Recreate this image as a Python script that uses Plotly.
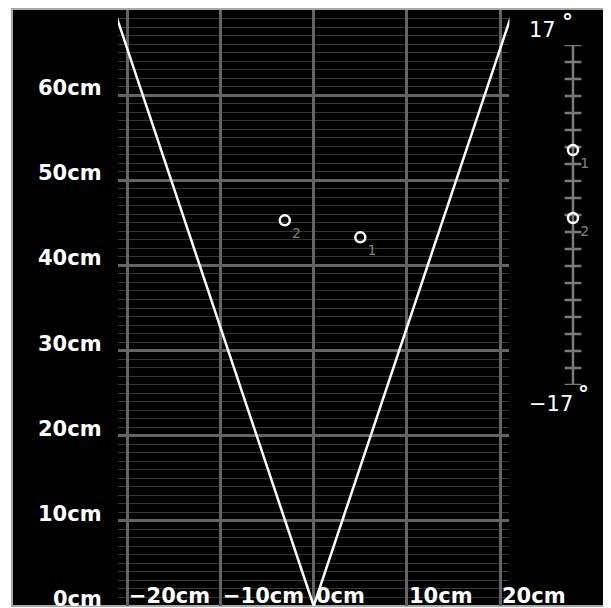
import math
import plotly.graph_objects as go

W, H = 611, 608
OFF = 8  # page offset of the figure (body margin)

# ---- data ----
y_ticks = [0, 10, 20, 30, 40, 50, 60]
y_tick_labels = ["0cm", "10cm", "20cm", "30cm", "40cm", "50cm", "60cm"]
x_ticks = [-20, -10, 0, 10, 20]
x_tick_labels = ["\u221220cm", "\u221210cm", "0cm", "10cm", "20cm"]
fov_half_angle_deg = 17
max_range_cm = 70
target_ids = ["1", "2"]
target_x_cm = [5.0, -3.1]
target_y_cm = [43.3, 45.3]
target_angle_deg = [6.5, -0.3]
angle_tick_values = [-17, -15.3, -13.6, -11.9, -10.2, -8.5, -6.8, -5.1, -3.4, -1.7, 0,
                     1.7, 3.4, 5.1, 6.8, 8.5, 10.2, 11.9, 13.6, 15.3, 17]

FONT = "DejaVu Sans"
GRID_MAJOR = "#646464"
GRID_MINOR = "#363636"
SCALE_GRAY = "#7a7a7a"
LABEL_FONT = dict(family=FONT, size=21, color="white", weight="bold")
ID_FONT = dict(family=FONT, size=14, color="#808080")


def px_x(p):
    return (p - OFF) / W


def px_y(p):
    return 1 - (p - OFF) / H


fig = go.Figure()

# field-of-view lines
t = math.tan(math.radians(fov_half_angle_deg))
fig.add_trace(go.Scatter(
    x=[-max_range_cm * t, 0, max_range_cm * t],
    y=[max_range_cm, 0, max_range_cm],
    mode="lines", line=dict(color="white", width=2.5),
    hoverinfo="skip", showlegend=False,
))

# targets
fig.add_trace(go.Scatter(
    x=target_x_cm, y=target_y_cm, mode="markers+text",
    text=target_ids, textposition="bottom right", textfont=ID_FONT,
    marker=dict(symbol="circle-open", size=10, color="white", line=dict(width=2.5, color="white")),
    showlegend=False,
))

# angle scale (second axes)
fig.add_trace(go.Scatter(
    x=[0, 0], y=[-fov_half_angle_deg, fov_half_angle_deg], mode="lines",
    line=dict(color=SCALE_GRAY, width=2.5), xaxis="x2", yaxis="y2",
    hoverinfo="skip", showlegend=False,
))
fig.add_trace(go.Scatter(
    x=[0] * len(angle_tick_values), y=angle_tick_values, mode="markers",
    marker=dict(symbol="line-ew", size=12, line=dict(color=SCALE_GRAY, width=2.5)),
    xaxis="x2", yaxis="y2", hoverinfo="skip", showlegend=False,
))
fig.add_trace(go.Scatter(
    x=[0] * len(target_angle_deg), y=target_angle_deg, mode="markers+text",
    text=target_ids, textposition="bottom right", textfont=ID_FONT,
    marker=dict(symbol="circle-open", size=10, color="white", line=dict(width=2.5, color="white")),
    xaxis="x2", yaxis="y2", showlegend=False,
))

annotations = []
# y tick labels (left of plot, slightly above their grid lines)
for v, lab in zip(y_ticks, y_tick_labels):
    annotations.append(dict(text=lab, x=px_x(104), xref="paper", y=v, yref="y",
                            xanchor="right", yanchor="middle", yshift=7,
                            showarrow=False, font=LABEL_FONT))
# x tick labels (inside plot, to the right of their grid lines)
for v, lab in zip(x_ticks, x_tick_labels):
    annotations.append(dict(text=lab, x=v, xref="x", y=0, yref="y",
                            xanchor="left", yanchor="middle", xshift=0, yshift=10,
                            showarrow=False, font=LABEL_FONT))
# angle scale end labels
annotations.append(dict(text=str(fov_half_angle_deg), x=px_x(542), y=px_y(30)))
annotations.append(dict(text="\u2212" + str(fov_half_angle_deg), x=px_x(551), y=px_y(404)))
for a in annotations[-2:]:
    a.update(xref="paper", yref="paper", showarrow=False, xanchor="center", yanchor="middle",
             font=dict(family=FONT, size=21, color="white"))
for (cx, cy) in [(567, 16), (583, 389)]:
    annotations.append(dict(text="\u00b0", x=px_x(cx), y=px_y(cy + 5), xref="paper", yref="paper",
                            showarrow=False, xanchor="center", yanchor="middle",
                            font=dict(family=FONT, size=22, color="white", weight="bold")))

fig.update_layout(
    width=W, height=H,
    margin=dict(l=0, r=0, t=0, b=0),
    paper_bgcolor="white", plot_bgcolor="black",
    showlegend=False,
    shapes=[dict(type="rect", xref="paper", yref="paper",
                 x0=px_x(12), x1=px_x(609), y0=px_y(606), y1=px_y(9),
                 fillcolor="black", line=dict(color="#a8a8a8", width=2), layer="below")],
    annotations=annotations,
    xaxis=dict(
        domain=[px_x(118), px_x(509.4)], range=[-21, 21],
        tickvals=x_ticks, showticklabels=False,
        showgrid=True, gridcolor=GRID_MAJOR, gridwidth=2.5,
        zeroline=False, showline=False, ticks="", fixedrange=True,
    ),
    yaxis=dict(
        domain=[px_y(606), px_y(10)], range=[0, max_range_cm],
        tickvals=y_ticks, showticklabels=False,
        showgrid=True, gridcolor=GRID_MAJOR, gridwidth=2.5,
        minor=dict(dtick=1, showgrid=True, gridcolor=GRID_MINOR, gridwidth=1),
        zeroline=False, showline=False, ticks="", fixedrange=True,
    ),
    xaxis2=dict(domain=[px_x(553), px_x(593)], range=[-1, 1], visible=False, anchor="y2"),
    yaxis2=dict(domain=[px_y(385), px_y(45)], range=[-fov_half_angle_deg, fov_half_angle_deg],
                visible=False, anchor="x2"),
)

fig.write_html("out.html")
